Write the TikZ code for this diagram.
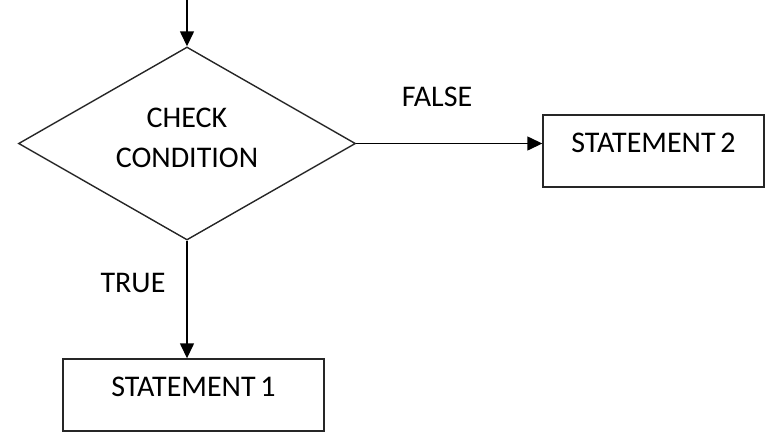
\documentclass[tikz,border=0pt]{standalone}
\usepackage{fontspec}
\setmainfont{Carlito}
\usetikzlibrary{shapes.geometric,arrows.meta}
\begin{document}
\begin{tikzpicture}[x=1pt,y=-1pt,
  every node/.style={font=\fontsize{30}{40}\selectfont, text=black},
  line/.style={draw=black!85, line width=1.4pt},
  flow/.style={draw=black, line width=1.4pt, -{Triangle[length=15pt,width=14pt]}},
  decision/.style={line, diamond, inner sep=0pt, minimum width=337pt, minimum height=193pt, aspect=1.746},
  stmtbox/.style={line, rectangle, inner sep=0pt, text height=37pt, text depth=35pt}
]
\useasboundingbox (0,0) rectangle (766,432);

% decision and the two statements
\node[decision] (cond) at (187,143.5) {};
\node[align=center, inner sep=0pt] (condtext) at (187,138) {CHECK\\CONDITION};
\node[stmtbox, minimum width=221pt] (s2) at (653.5,151) {STATEMENT\hspace{-2pt} 2\hspace{6pt}};
\node[stmtbox, minimum width=261pt] (s1) at (193.5,395) {STATEMENT\hspace{-2pt} 1};

% incoming flow
\coordinate (entry) at (187,0);
\draw[flow] (entry) -- (cond.north);

% branches
\draw[flow] (cond.east) -- (cond.east -| s2.west);
\draw[flow] (cond.south) -- (cond.south |- s1.north);

% branch labels
\node (lf) at (437,97) {FALSE};
\node (lt) at (133,283) {TRUE};
\end{tikzpicture}
\end{document}
